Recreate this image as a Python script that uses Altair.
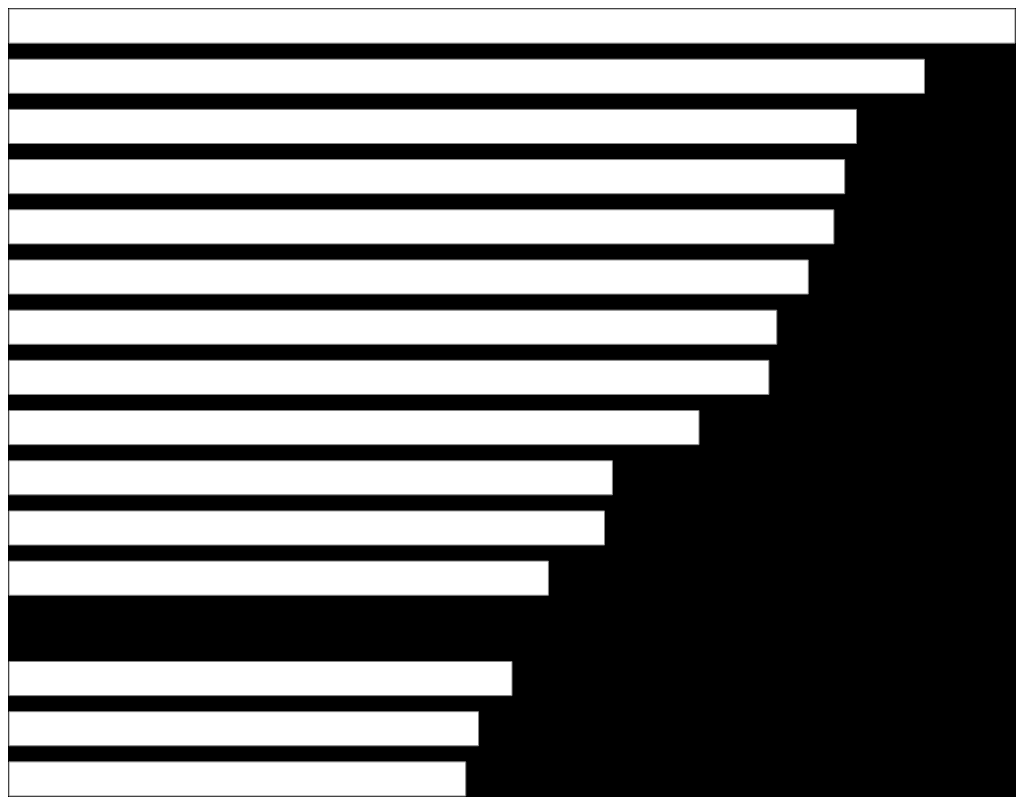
import altair as alt
import pandas as pd

categories = [f"c{i:02d}" for i in range(1, 17)]
values = [1022, 930, 861, 849, 838, 812, 780, 772, 701, 613, 605, 548, 0, 511, 477, 464]

df = pd.DataFrame({"cat": categories, "val": values})

chart = (
    alt.Chart(df)
    .mark_bar(color="white", stroke="#888888", strokeWidth=1)
    .encode(
        x=alt.X("val:Q", axis=None, scale=alt.Scale(domain=[0, 1022], nice=False, zero=True)),
        y=alt.Y("cat:N", axis=None, sort=categories,
                scale=alt.Scale(paddingInner=0.32, paddingOuter=0)),
        strokeOpacity=alt.condition(alt.datum.val > 0, alt.value(1), alt.value(0)),
    )
    .properties(
        width=1008,
        height=789,
        background="black",
        padding=0,
        autosize=alt.AutoSizeParams(type="fit", contains="padding"),
    )
    .configure_view(stroke=None)
)

chart.save("out.html", embed_options={"renderer": "svg", "actions": False})
